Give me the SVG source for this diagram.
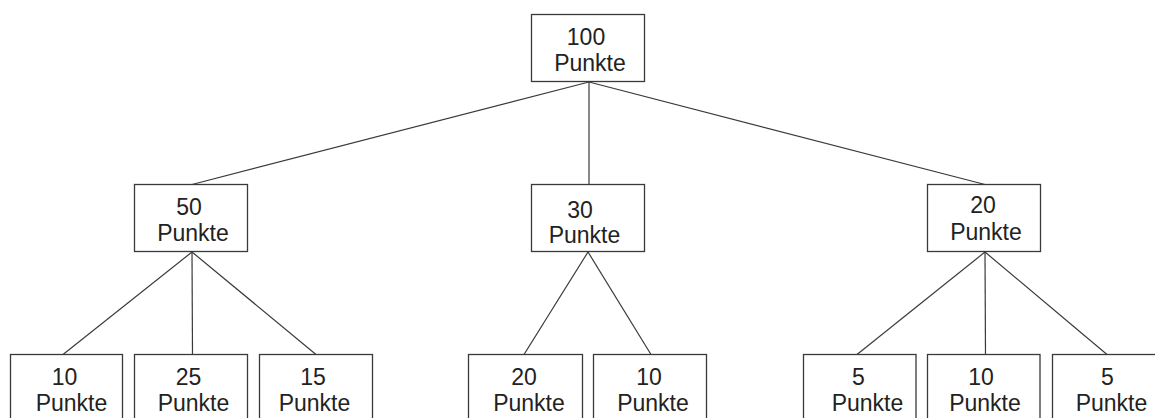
<svg xmlns="http://www.w3.org/2000/svg" width="1155" height="418" viewBox="0 0 1155 418">
  <style>
    .box { fill: #ffffff; stroke: #3a3a3a; stroke-width: 1.3; }
    .edge { stroke: #3a3a3a; stroke-width: 1.2; fill: none; }
    .lbl { font-family: "Liberation Sans", Arial, sans-serif; font-size: 23px; fill: #222222; text-anchor: middle; }
  </style>
  <rect width="1155" height="418" fill="#ffffff"/>

  <!-- tree edges -->
  <g id="connectors">
    <line class="edge" x1="589" y1="82" x2="192" y2="184.5"/>
    <line class="edge" x1="589" y1="82" x2="589" y2="184.5"/>
    <line class="edge" x1="589" y1="82" x2="985" y2="184.5"/>
    <line class="edge" x1="192" y1="252" x2="63" y2="354.5"/>
    <line class="edge" x1="192" y1="252" x2="192.5" y2="354.5"/>
    <line class="edge" x1="192" y1="252" x2="316" y2="354.5"/>
    <line class="edge" x1="588" y1="252" x2="524" y2="354.5"/>
    <line class="edge" x1="588" y1="252" x2="651" y2="354.5"/>
    <line class="edge" x1="985" y1="252" x2="857" y2="354.5"/>
    <line class="edge" x1="985" y1="252" x2="985.5" y2="354.5"/>
    <line class="edge" x1="985" y1="252" x2="1107" y2="354.5"/>
  </g>

  <!-- root -->
  <g id="n100">
    <rect class="box" x="531.5" y="14.5" width="113" height="67"/>
    <text class="lbl" x="586" y="44.5">100</text>
    <text class="lbl" x="590" y="71">Punkte</text>
  </g>

  <!-- second level -->
  <g id="n50">
    <rect class="box" x="134.5" y="184.5" width="113" height="67"/>
    <text class="lbl" x="189" y="214.5">50</text>
    <text class="lbl" x="193" y="241">Punkte</text>
  </g>
  <g id="n30">
    <rect class="box" x="531.5" y="184.5" width="113" height="67"/>
    <text class="lbl" x="580" y="217.5">30</text>
    <text class="lbl" x="584.5" y="242.5">Punkte</text>
  </g>
  <g id="n20">
    <rect class="box" x="927.5" y="184.5" width="113" height="67"/>
    <text class="lbl" x="983" y="212.5">20</text>
    <text class="lbl" x="986" y="240">Punkte</text>
  </g>

  <!-- leaves -->
  <g id="n10a">
    <rect class="box" x="10.5" y="354.5" width="112" height="67"/>
    <text class="lbl" x="64.5" y="384.5">10</text>
    <text class="lbl" x="71.5" y="411">Punkte</text>
  </g>
  <g id="n25">
    <rect class="box" x="134.5" y="354.5" width="113" height="67"/>
    <text class="lbl" x="188.5" y="384.5">25</text>
    <text class="lbl" x="193.5" y="411">Punkte</text>
  </g>
  <g id="n15">
    <rect class="box" x="259.5" y="354.5" width="113" height="67"/>
    <text class="lbl" x="313" y="384.5">15</text>
    <text class="lbl" x="314.5" y="411">Punkte</text>
  </g>
  <g id="n20b">
    <rect class="box" x="468.5" y="354.5" width="114" height="67"/>
    <text class="lbl" x="524" y="384.5">20</text>
    <text class="lbl" x="529" y="411">Punkte</text>
  </g>
  <g id="n10b">
    <rect class="box" x="593.5" y="354.5" width="113" height="67"/>
    <text class="lbl" x="649" y="384.5">10</text>
    <text class="lbl" x="653" y="411">Punkte</text>
  </g>
  <g id="n5a">
    <rect class="box" x="803.5" y="354.5" width="112.5" height="67"/>
    <text class="lbl" x="858.5" y="384.5">5</text>
    <text class="lbl" x="867.5" y="411">Punkte</text>
  </g>
  <g id="n10c">
    <rect class="box" x="927.5" y="354.5" width="112.5" height="67"/>
    <text class="lbl" x="981" y="384.5">10</text>
    <text class="lbl" x="985" y="411">Punkte</text>
  </g>
  <g id="n5b">
    <rect class="box" x="1052.5" y="354.5" width="113" height="67"/>
    <text class="lbl" x="1107.5" y="384.5">5</text>
    <text class="lbl" x="1111.5" y="411">Punkte</text>
  </g>
</svg>
